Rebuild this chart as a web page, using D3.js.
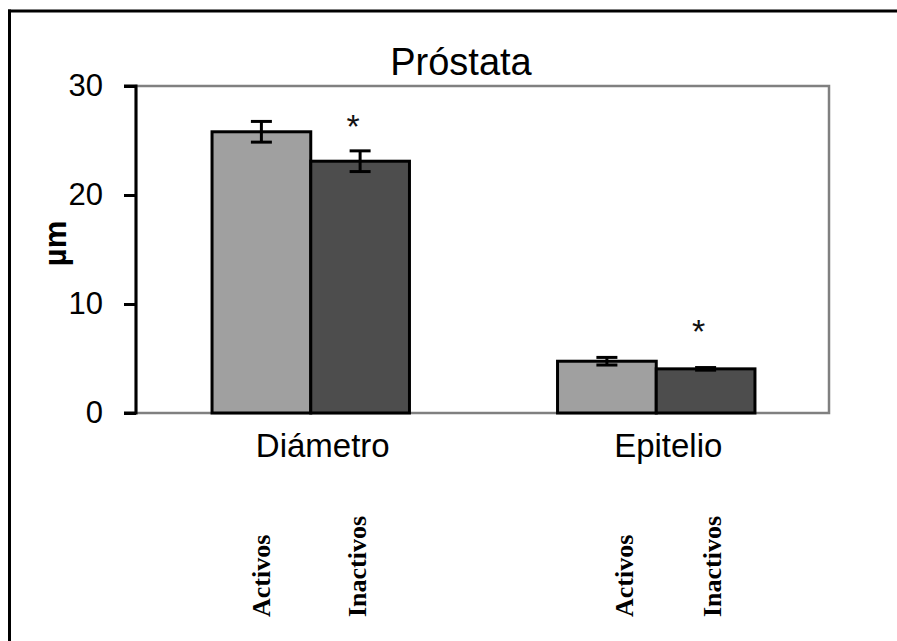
<!DOCTYPE html>
<html>
<head>
<meta charset="utf-8">
<script src="https://cdn.jsdelivr.net/npm/d3@7"></script>
<style>
  html, body { margin: 0; padding: 0; background: #fff; }
  svg { display: block; }
</style>
</head>
<body>
<svg id="chart" width="897" height="641"></svg>
<script>
// Data
const categories = ["Diámetro", "Epitelio"];
const groups = ["Activos", "Inactivos"];
const activosMean = [25.8, 4.75];
const activosErr = [0.95, 0.35];
const inactivosMean = [23.1, 4.05];
const inactivosErr = [0.95, 0.12];
const yTicks = [0, 10, 20, 30];
const significance = [27.1, 8.3];   // height of the "*" marks above the Inactivos bars
const chartTitle = "Próstata";
const yLabel = "µm";

const rows = categories.map((c, i) => ({
  category: c,
  values: [
    { group: "Activos", mean: activosMean[i], err: activosErr[i] },
    { group: "Inactivos", mean: inactivosMean[i], err: inactivosErr[i] }
  ],
  star: significance[i]
}));

const svg = d3.select("#chart");
const plot = { left: 138, right: 829, top: 86, bottom: 413 };
const color = d3.scaleOrdinal().domain(groups).range(["#a0a0a0", "#4d4d4d"]);

const x0 = d3.scaleBand().domain(categories).range([plot.left, plot.right]).padding(0);
const x1 = d3.scaleBand().domain(groups).range([0, x0.bandwidth()]).paddingInner(0).paddingOuter(0.75);
const y = d3.scaleLinear().domain([0, 30]).range([plot.bottom, plot.top]);

// Outer frame (left and top edges)
svg.append("line").attr("x1", 9.5).attr("x2", 9.5).attr("y1", 9.5).attr("y2", 641)
  .attr("stroke", "#000").attr("stroke-width", 3);
svg.append("line").attr("x1", 8).attr("x2", 897).attr("y1", 11).attr("y2", 11)
  .attr("stroke", "#000").attr("stroke-width", 3);

// Plot area border
svg.append("rect")
  .attr("x", plot.left - 2).attr("y", plot.top)
  .attr("width", plot.right - plot.left + 2).attr("height", plot.bottom - plot.top)
  .attr("fill", "none").attr("stroke", "#808080").attr("stroke-width", 2.5);

// Bars
const grp = svg.append("g").selectAll("g").data(rows).join("g")
  .attr("transform", d => `translate(${x0(d.category)},0)`);

grp.selectAll("rect").data(d => d.values).join("rect")
  .attr("x", d => x1(d.group))
  .attr("y", d => y(d.mean))
  .attr("width", x1.bandwidth())
  .attr("height", d => y(0) - y(d.mean))
  .attr("fill", d => color(d.group))
  .attr("stroke", "#000").attr("stroke-width", 3);

// Error bars
const eb = grp.selectAll("g.err").data(d => d.values).join("g").attr("class", "err")
  .attr("transform", d => `translate(${x1(d.group) + x1.bandwidth() / 2},0)`);
eb.append("line").attr("x1", 0).attr("x2", 0)
  .attr("y1", d => y(d.mean + d.err)).attr("y2", d => y(d.mean - d.err))
  .attr("stroke", "#000").attr("stroke-width", 3);
eb.selectAll("line.cap").data(d => [d.mean + d.err, d.mean - d.err]).join("line")
  .attr("class", "cap")
  .attr("x1", -10.5).attr("x2", 10.5)
  .attr("y1", v => y(v)).attr("y2", v => y(v))
  .attr("stroke", "#000").attr("stroke-width", 3);

// Significance marks
grp.append("text")
  .attr("x", x1("Inactivos") + x1.bandwidth() / 2 - 7)
  .attr("y", d => y(d.star) + 20)
  .attr("text-anchor", "middle")
  .attr("font-family", "Liberation Sans, Arial, sans-serif")
  .attr("font-size", 34)
  .attr("fill", "#111")
  .text("*");

// Y axis
const yAxis = svg.append("g")
  .attr("transform", `translate(${plot.left - 2},0)`)
  .call(d3.axisLeft(y).tickValues(yTicks).tickSize(12).tickPadding(21));
yAxis.select(".domain").attr("stroke", "#000").attr("stroke-width", 3);
yAxis.selectAll(".tick line").attr("stroke", "#000").attr("stroke-width", 3);
yAxis.selectAll(".tick text")
  .attr("font-family", "Liberation Sans, Arial, sans-serif")
  .attr("font-size", 31).attr("fill", "#000");
yAxis.select(".domain").attr("d", `M-12,${plot.top}H0V${plot.bottom}H-12`);

// Y label
svg.append("text")
  .attr("transform", `translate(66,${(plot.top + plot.bottom) / 2 - 6}) rotate(-90)`)
  .attr("text-anchor", "middle")
  .attr("font-family", "Liberation Sans, Arial, sans-serif")
  .attr("font-weight", "bold").attr("font-size", 31)
  .text(yLabel);

// Title
svg.append("text")
  .attr("x", 461).attr("y", 75)
  .attr("text-anchor", "middle")
  .attr("font-family", "Liberation Sans, Arial, sans-serif")
  .attr("font-size", 38)
  .text(chartTitle);

// Category labels
svg.append("g").selectAll("text").data(categories).join("text")
  .attr("x", d => x0(d) + x0.bandwidth() / 2 + 12)
  .attr("y", 457)
  .attr("text-anchor", "middle")
  .attr("font-family", "Liberation Sans, Arial, sans-serif")
  .attr("font-size", 33)
  .text(d => d);

// Group labels, rotated, under each bar
const groupLabelShift = { "Diámetro": [9, 6], "Epitelio": [26, 15] };
categories.forEach(c => {
  groups.forEach((g, j) => {
    const cx = x0(c) + x1(g) + x1.bandwidth() / 2 + groupLabelShift[c][j];
    svg.append("text")
      .attr("transform", `translate(${cx},617) rotate(-90)`)
      .attr("font-family", "Liberation Serif, 'Times New Roman', serif")
      .attr("font-weight", "bold").attr("font-size", 26)
      .text(g);
  });
});
</script>
</body>
</html>
